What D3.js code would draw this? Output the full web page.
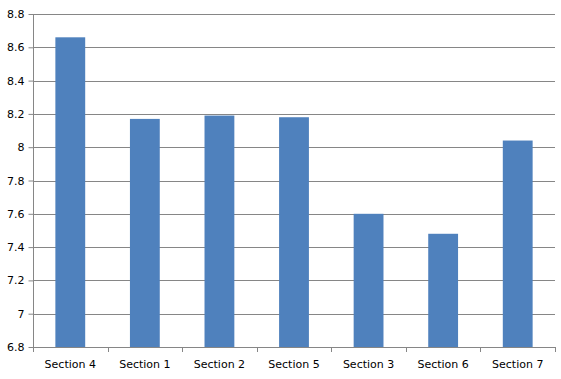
<!DOCTYPE html>
<html>
<head>
<meta charset="utf-8">
<script src="https://cdn.jsdelivr.net/npm/d3@7"></script>
<style>
  body { margin: 0; background: #fff; }
  text { font-family: "DejaVu Sans", sans-serif; font-size: 11px; fill: #000; }
</style>
</head>
<body>
<svg></svg>
<script>
var svgWidth = 561;
var svgHeight = 379;

var categories = ["Section 4", "Section 1", "Section 2", "Section 5", "Section 3", "Section 6", "Section 7"];
var values = [8.66, 8.17, 8.19, 8.18, 7.60, 7.48, 8.04];
var yTicks = [6.8, 7, 7.2, 7.4, 7.6, 7.8, 8, 8.2, 8.4, 8.6, 8.8];

var plotLeft = 33, plotRight = 555, plotTop = 14, plotBottom = 347;

var svg = d3.select("svg")
    .attr("width", svgWidth)
    .attr("height", svgHeight);

var x = d3.scaleBand()
    .domain(categories)
    .range([plotLeft, plotRight])
    .paddingInner(0.6)
    .paddingOuter(0.3);

var y = d3.scaleLinear()
    .domain([6.8, 8.8])
    .range([plotBottom, plotTop]);

// gridlines
svg.append("g")
    .selectAll("line")
    .data(yTicks)
    .enter()
    .append("line")
    .attr("x1", plotLeft)
    .attr("x2", plotRight)
    .attr("y1", function(d) { return Math.round(y(d)) + 0.5; })
    .attr("y2", function(d) { return Math.round(y(d)) + 0.5; })
    .attr("stroke", "#868686")
    .attr("stroke-width", 1);

// bars
svg.append("g")
    .selectAll("rect")
    .data(values)
    .enter()
    .append("rect")
    .attr("x", function(d, i) { return x(categories[i]); })
    .attr("y", function(d) { return y(d); })
    .attr("width", x.bandwidth())
    .attr("height", function(d) { return plotBottom - y(d); })
    .attr("fill", "#4F81BD");

// y axis
var yAxis = svg.append("g")
    .attr("transform", "translate(" + (plotLeft + 0.5) + ",0)")
    .call(d3.axisLeft(y).tickValues(yTicks).tickSize(5).tickPadding(4)
        .tickFormat(function(d) { return String(+d.toFixed(1)); }));
yAxis.selectAll("line").attr("stroke", "#868686");
yAxis.select(".domain").attr("stroke", "#868686").attr("d", "M0," + plotTop + "V" + plotBottom);
yAxis.selectAll("text").style("font-size", "11px").attr("fill", "#000");

// x axis
var step = (plotRight - plotLeft) / categories.length;
var xAxis = svg.append("g");
xAxis.append("line")
    .attr("x1", plotLeft).attr("x2", plotRight)
    .attr("y1", plotBottom + 0.5).attr("y2", plotBottom + 0.5)
    .attr("stroke", "#868686");
xAxis.selectAll("line.tk")
    .data(d3.range(categories.length + 1))
    .enter()
    .append("line")
    .attr("class", "tk")
    .attr("x1", function(i) { return Math.round(plotLeft + i * step) + 0.5; })
    .attr("x2", function(i) { return Math.round(plotLeft + i * step) + 0.5; })
    .attr("y1", plotBottom)
    .attr("y2", plotBottom + 5)
    .attr("stroke", "#868686");
xAxis.selectAll("text")
    .data(categories)
    .enter()
    .append("text")
    .attr("x", function(d) { return x(d) + x.bandwidth() / 2; })
    .attr("y", plotBottom + 21)
    .attr("text-anchor", "middle")
    .text(function(d) { return d; });
</script>
</body>
</html>
